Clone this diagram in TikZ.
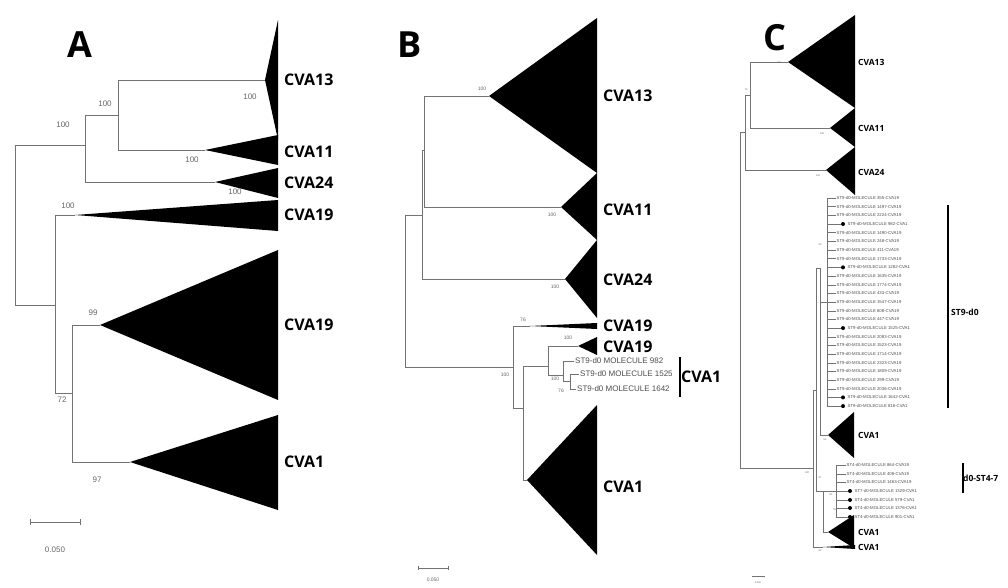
\documentclass[tikz,border=0pt]{standalone}
\usepackage{fontspec}
\setmainfont{Open Sans}
\newfontfamily\leaffont{Liberation Sans}
\usetikzlibrary{calc}

% collapsed clade: name, apex x, apex y, right x, top y, bottom y
\newcommand{\clade}[6]{%
  \coordinate (#1) at (#2,#3);
  \fill (#1) -- (#4,#5) -- (#4,#6) -- cycle;}

\tikzset{
  br/.style={draw=black!55, line width=0.6pt},
  panel/.style={font=\bfseries\fontsize{36}{36}\selectfont, inner sep=0pt},
  lblA/.style={font=\bfseries\fontsize{16}{16}\selectfont, anchor=west, inner sep=1pt},
  lblC/.style={font=\bfseries\fontsize{8.5}{8.5}\selectfont, anchor=west, inner sep=1pt},
  bs/.style={font=\leaffont\fontsize{#1}{#1}\selectfont, text=black!60, inner sep=0pt},
  bs/.default=7,
  leafB/.style={font=\leaffont\fontsize{8}{8}\selectfont, text=black!70, anchor=west, inner sep=1pt},
  leafC/.style={font=\leaffont\fontsize{4.3}{4.3}\selectfont, text=black!70, anchor=west, inner sep=0.5pt},
  dot/.style={circle, fill=black, inner sep=0pt, minimum size=4pt},
}

\begin{document}
\begin{tikzpicture}[x=1pt, y=-1pt]
\useasboundingbox (0,0) rectangle (1008,588);

% ---------------- Panel A ----------------
\node[panel] (pA) at (80,45) {A};
\clade{a13}{265}{80}{278}{20}{140}
\clade{a11}{205}{150}{278}{135}{165}
\clade{a24}{215}{182}{278}{168}{198}
\clade{a19s}{75}{215}{278}{200}{231}
\clade{a19}{100}{325}{278}{250}{400}
\clade{a1}{130}{462}{278}{415}{510}
\coordinate (rA) at (15,225);
\coordinate (nA2) at (85,145);
\coordinate (nA1) at (118,115);
\coordinate (nA3) at (55,305);
\coordinate (nA4) at (72,393);
\draw[br] (rA) |- (nA2); \draw[br] (rA) |- (nA3);
\draw[br] (nA2) |- (nA1); \draw[br] (nA2) |- (a24);
\draw[br] (nA1) |- (a13); \draw[br] (nA1) |- (a11);
\draw[br] (nA3) |- (a19s); \draw[br] (nA3) |- (nA4);
\draw[br] (nA4) |- (a19); \draw[br] (nA4) |- (a1);
\foreach \n/\t/\y in {ta13/CVA13/80, ta11/CVA11/152, ta24/CVA24/183, ta19s/CVA19/215, ta19/CVA19/325, ta1/CVA1/462}
  \node[lblA] (\n) at (283,\y) {\t};
\foreach \x/\y/\v in {250/97/100, 105/104/100, 63/125/100, 192/160/100, 235/192/100, 68/206/100, 93/313/99, 62/400/72, 97/480/97}
  \node[bs=8] at (\x,\y) {\v};
% scale bar
\coordinate (sa1) at (30,522); \coordinate (sa2) at (80,522);
\draw[br] (sa1) -- (sa2);
\draw[br] ($(sa1)+(0,-3)$) -- ($(sa1)+(0,3)$);
\draw[br] ($(sa2)+(0,-3)$) -- ($(sa2)+(0,3)$);
\node[bs=8] at (55,550) {0.050};

% ---------------- Panel B ----------------
\node[panel] (pB) at (410,45) {B};
\clade{b13}{489}{96}{597}{18}{173}
\clade{b11}{561}{207}{597}{173}{240}
\clade{b24}{565}{279}{597}{240}{318}
\clade{b19s}{578}{346}{597}{337}{355}
\clade{b1}{527}{480}{597}{405}{555}
\coordinate (b19w) at (530,326);
\fill (b19w) -- (597,323) -- (597,329) -- cycle;
\coordinate (rB) at (405,291);
\coordinate (nB1) at (422,215);
\coordinate (nB2) at (424,150);
\coordinate (nB4) at (513,367);
\coordinate (nB5) at (523,408);
\coordinate (nB6) at (548,366);
\coordinate (nB7) at (563,375);
\coordinate (nB8) at (570,381);
\draw[br] (rB) |- (nB1); \draw[br] (rB) |- (nB4);
\draw[br] (nB1) |- (nB2); \draw[br] (nB1) |- (b24);
\draw[br] (nB2) |- (b13); \draw[br] (nB2) |- (b11);
\draw[br] (nB4) |- (b19w); \draw[br] (nB4) |- (nB5);
\draw[br] (nB5) |- (nB6); \draw[br] (nB5) |- (b1);
\draw[br] (nB6) |- (b19s); \draw[br] (nB6) |- (nB7);
\node[leafB] (m982) at (574,361) {ST9-d0 MOLECULE 982};
\node[leafB] (m1525) at (579,374) {ST9-d0 MOLECULE 1525};
\node[leafB] (m1642) at (576,389) {ST9-d0 MOLECULE 1642};
\draw[br] (nB7) |- (m982.west); \draw[br] (nB7) |- (nB8);
\draw[br] (nB8) |- (m1525.west); \draw[br] (nB8) |- (m1642.west);
\foreach \n/\t/\y in {tb13/CVA13/96, tb11/CVA11/210, tb24/CVA24/280, tb19w/CVA19/326, tb19s/CVA19/347, tb1/CVA1/487}
  \node[lblA] (\n) at (602,\y) {\t};
\coordinate (gB1) at (680,357); \coordinate (gB2) at (680,397);
\draw[line width=1.4pt] (gB1) -- (gB2);
\node[lblA] (tgB) at (680,377) {CVA1};
\foreach \x/\y/\v in {482/89/100, 552/215/100, 555/287/100, 523/320/76, 568/338/100, 505/375/100, 555/379/100, 561/391/76}
  \node[bs=5] at (\x,\y) {\v};
\coordinate (sb1) at (418,568); \coordinate (sb2) at (448,568);
\draw[br] (sb1) -- (sb2);
\draw[br] ($(sb1)+(0,-2)$) -- ($(sb1)+(0,2)$);
\draw[br] ($(sb2)+(0,-2)$) -- ($(sb2)+(0,2)$);
\node[bs=5] at (433,580) {0.050};

% ---------------- Panel C ----------------
\node[panel] (pC) at (775,38) {C};
\clade{c13}{788}{62}{855}{15}{108}
\clade{c11}{830}{128}{855}{108}{147}
\clade{c24}{826}{170}{855}{147}{195}
\clade{c1a}{828}{435}{854}{412}{458}
\clade{c1b}{828}{532}{854}{515}{548}
\coordinate (c1w) at (823,547);
\fill (c1w) -- (855,545) -- (855,549) -- cycle;
\coordinate (rC) at (740,300);
\coordinate (nC1) at (745,132);
\coordinate (nC2) at (750,95);
\coordinate (nC3) at (813,468);
\coordinate (nC4) at (816,390);
\coordinate (nC5) at (820,268);
\coordinate (nC6) at (823,491);
\coordinate (sv) at (827,302);
\coordinate (sw) at (836,491);
\draw[br] (rC) |- (nC1); \draw[br] (rC) |- (nC3);
\draw[br] (nC1) |- (nC2); \draw[br] (nC1) |- (c24);
\draw[br] (nC2) |- (c13); \draw[br] (nC2) |- (c11);
\draw[br] (nC3) |- (nC4); \draw[br] (nC3) |- (c1w);
\draw[br] (nC4) |- (nC5); \draw[br] (nC4) |- (nC6);
\draw[br] (nC5) |- (sv); \draw[br] (nC5) |- (c1a);
\draw[br] (nC6) |- (sw); \draw[br] (nC6) |- (c1b);
% ST9 leaves
\foreach \t/\d [count=\i] in {355-CVA19/0, 1497-CVA19/0, 2224-CVA19/0, 982-CVA1/1, 1490-CVA19/0, 248-CVA19/0, 411-CVA19/0, 1733-CVA19/0, 1282-CVA1/1, 1635-CVA19/0, 1774-CVA19/0, 433-CVA19/0, 1547-CVA19/0, 608-CVA19/0, 447-CVA19/0, 1525-CVA1/1, 2083-CVA19/0, 1523-CVA19/0, 1714-CVA19/0, 2323-CVA19/0, 1809-CVA19/0, 299-CVA19/0, 2036-CVA19/0, 1642-CVA1/1, 816-CVA1/1}{
  \pgfmathsetmacro{\yy}{198+(\i-1)*8.67}
  \ifnum\d=1
    \node[dot] (sd\i) at (843,\yy) {};
    \node[leafC] (s\i) at (847,\yy) {ST9-d0-MOLECULE \t};
    \draw[br, line width=0.4pt] (sv) |- (sd\i.west);
  \else
    \node[leafC] (s\i) at (836,\yy) {ST9-d0-MOLECULE \t};
    \draw[br, line width=0.4pt] (sv) |- (s\i.west);
  \fi
}
% ST4 / ST7 leaves
\foreach \t/\d/\y [count=\i] in {ST4-d0-MOLECULE 864-CVA19/0/465, ST4-d0-MOLECULE 408-CVA19/0/474, ST4-d0-MOLECULE 1463-CVA19/0/482, ST7-d0-MOLECULE 1329-CVA1/1/491, ST4-d0-MOLECULE 579-CVA1/1/500, ST4-d0-MOLECULE 1376-CVA1/1/508, ST4-d0-MOLECULE 901-CVA1/1/517}{
  \ifnum\d=1
    \node[dot] (td\i) at (850,\y) {};
    \node[leafC] (t\i) at (854,\y) {\t};
    \draw[br, line width=0.4pt] (sw) |- (td\i.west);
  \else
    \node[leafC] (t\i) at (846,\y) {\t};
    \draw[br, line width=0.4pt] (sw) |- (t\i.west);
  \fi
}
\foreach \n/\t/\y in {tc13/CVA13/62, tc11/CVA11/128, tc24/CVA24/172, tc1a/CVA1/435, tc1b/CVA1/532, tc1w/CVA1/547}
  \node[lblC] (\n) at (857,\y) {\t};
\coordinate (gC1) at (948,205); \coordinate (gC2) at (948,408);
\draw[line width=1.2pt] (gC1) -- (gC2);
\node[lblC] (tgC) at (950,312) {ST9-d0};
\coordinate (gD1) at (963,463); \coordinate (gD2) at (963,493);
\draw[line width=1.2pt] (gD1) -- (gD2);
\node[lblC] (tgD) at (962,478) {d0-ST4-7};
\foreach \x/\y/\v in {779/63/100, 746/90/76, 822/134/100, 818/176/100, 820/245/90, 807/473/100, 825/440/54, 820/478/67, 820/551/64, 831/495/81, 835/510/94}
  \node[bs=2.5] at (\x,\y) {\v};
\coordinate (sc1) at (752,576); \coordinate (sc2) at (765,576);
\draw[br, line width=0.4pt] (sc1) -- (sc2);
\node[bs=2.5] at (758,583) {0.050};
\end{tikzpicture}
\end{document}
